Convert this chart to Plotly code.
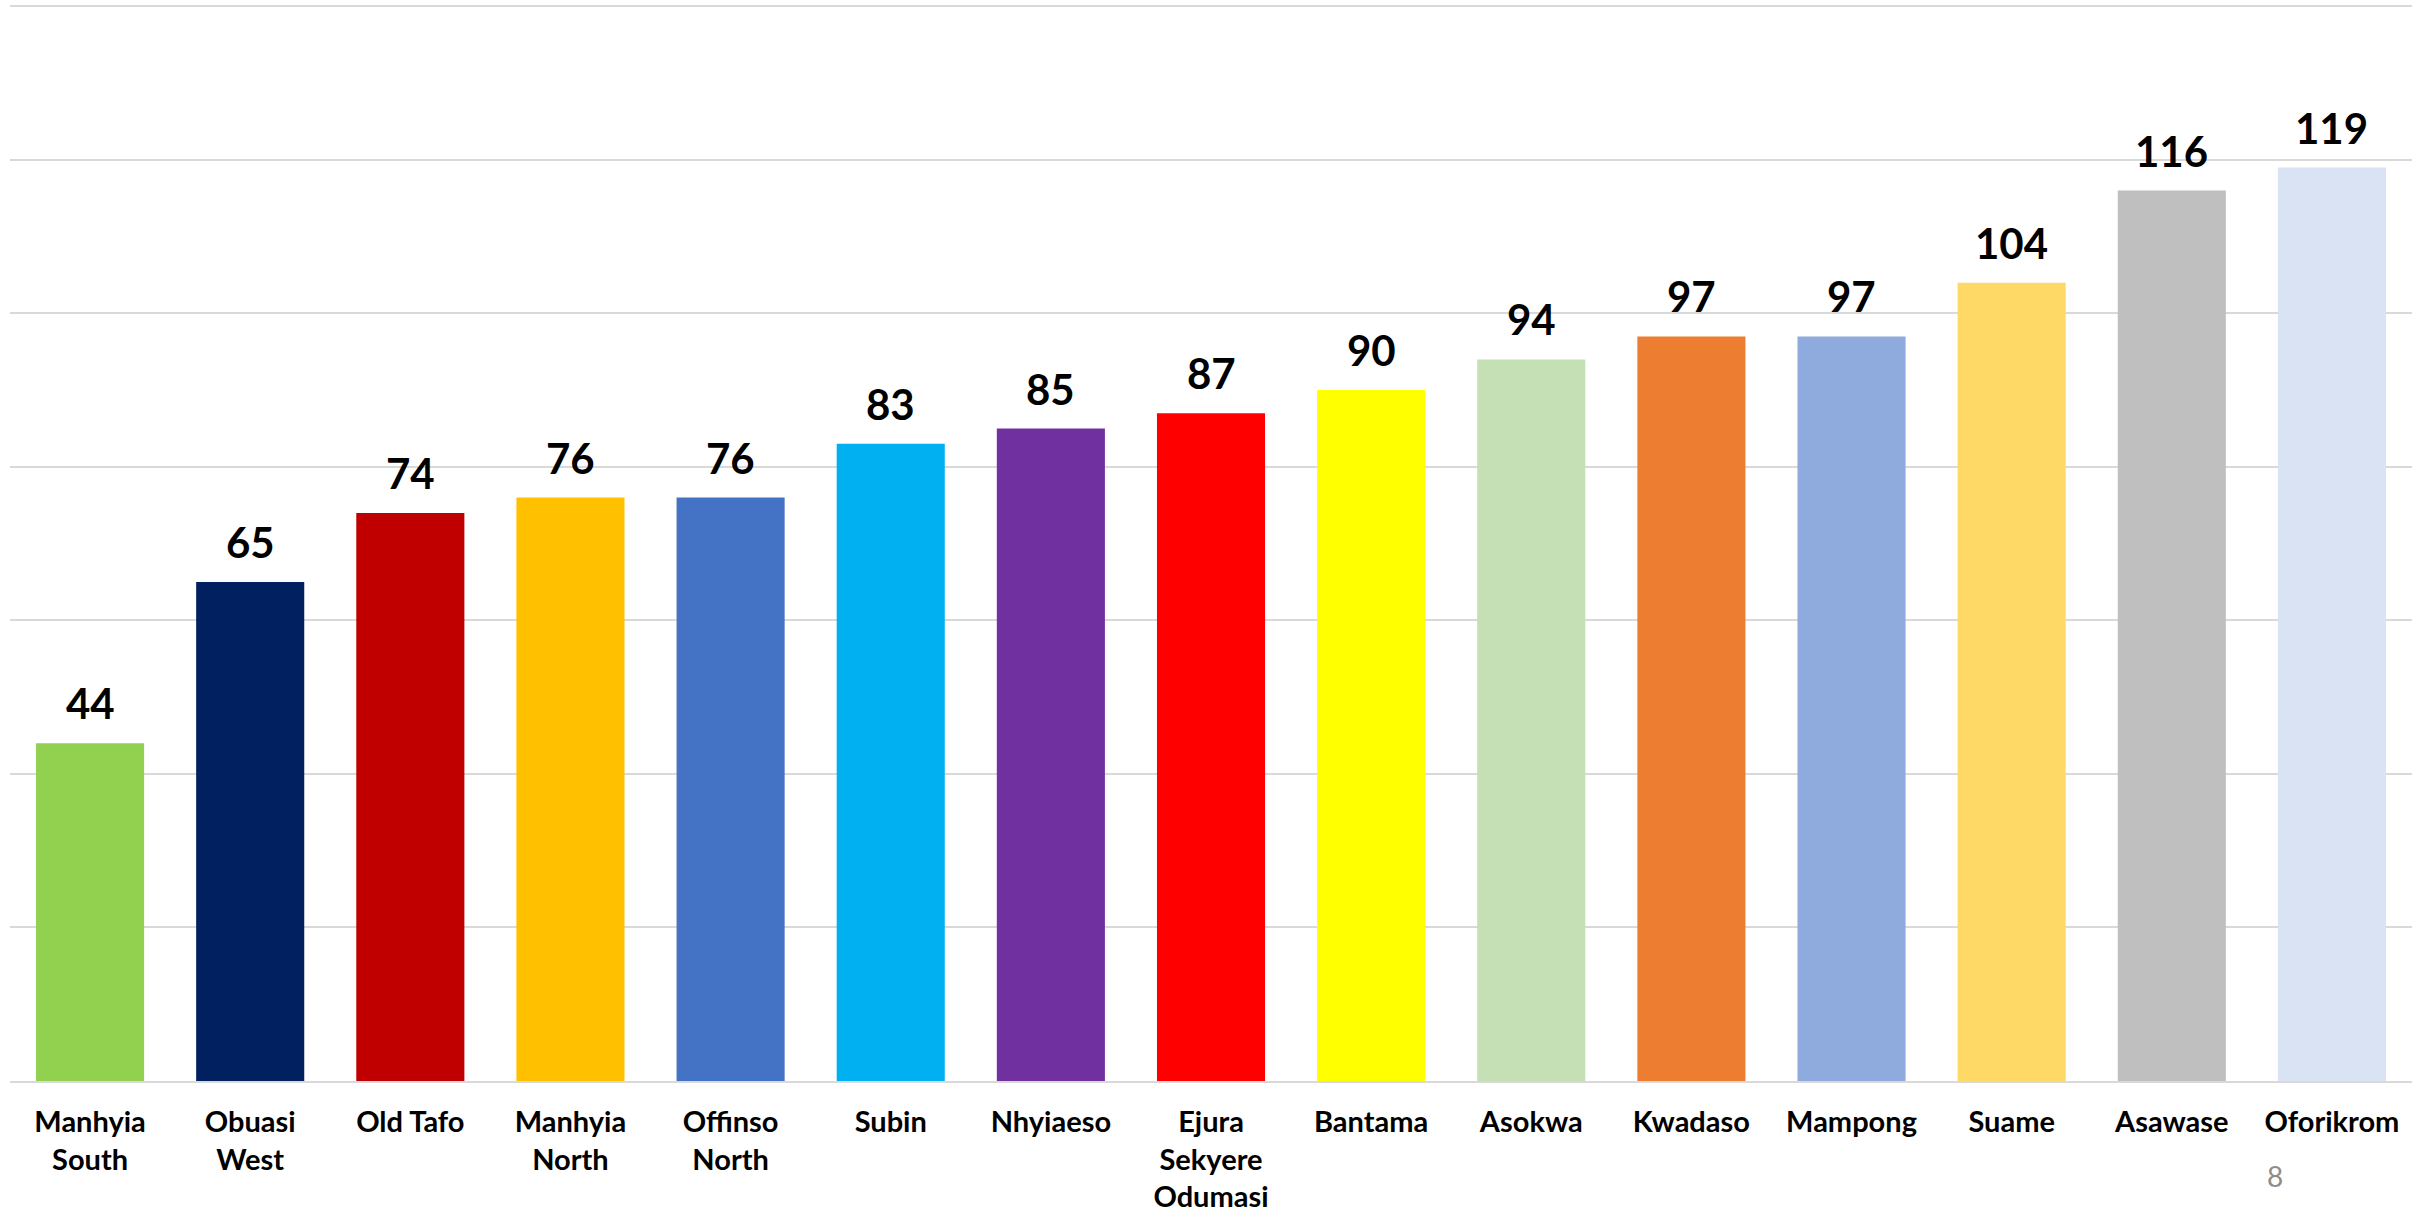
import plotly.graph_objects as go

categories = ["Manhyia<br>South", "Obuasi<br>West", "Old Tafo", "Manhyia<br>North", "Offinso<br>North",
              "Subin", "Nhyiaeso", "Ejura<br>Sekyere<br>Odumasi", "Bantama", "Asokwa", "Kwadaso",
              "Mampong", "Suame", "Asawase", "Oforikrom"]
values = [44, 65, 74, 76, 76, 83, 85, 87, 90, 94, 97, 97, 104, 116, 119]
colors = ["#92D050", "#002060", "#C00000", "#FFC000", "#4472C4", "#00B0F0", "#7030A0", "#FF0000",
          "#FFFF00", "#C5E0B4", "#ED7D31", "#8FAADC", "#FFD966", "#BFBFBF", "#DAE3F3"]
page_number = "8"

FONT = "Lato, 'Open Sans', 'DejaVu Sans', sans-serif"

fig = go.Figure(go.Bar(x=categories, y=values, marker=dict(color=colors, line=dict(width=0)),
                       hoverinfo="skip"))

for c, v in zip(categories, values):
    fig.add_annotation(x=c, y=v, text=f"<b>{v}</b>", showarrow=False, yanchor="bottom",
                       yshift=13, font=dict(family=FONT, size=42, color="#000000"))

fig.add_annotation(xref="paper", yref="paper", x=(2275 - 10) / 2402, y=-(1176 - 1081) / 1076.8,
                   text=page_number, showarrow=False, xanchor="center", yanchor="middle",
                   font=dict(family=FONT, size=28, color="#8C8C8C"))

fig.update_layout(
    width=2422, height=1213,
    margin=dict(l=10, r=10, t=4.2, b=132, autoexpand=False),
    paper_bgcolor="white", plot_bgcolor="white",
    bargap=0.325, showlegend=False,
    font=dict(family=FONT),
)
fig.update_xaxes(type="category", showgrid=False, showline=True, linecolor="#D9D9D9", linewidth=2,
                 ticks="", tickfont=dict(family=FONT, size=29, color="#000000"), automargin=False,
                 ticklabelstandoff=14, tickprefix="<b>", ticksuffix="</b>")
fig.update_yaxes(range=[0, 140.3], tick0=0, dtick=20, showgrid=True, gridcolor="#D9D9D9", gridwidth=2,
                 showticklabels=False, zeroline=False, showline=False, ticks="", automargin=False)

fig.write_html("out.html", config={"displayModeBar": False},
               post_script="document.body.style.margin='0';")
